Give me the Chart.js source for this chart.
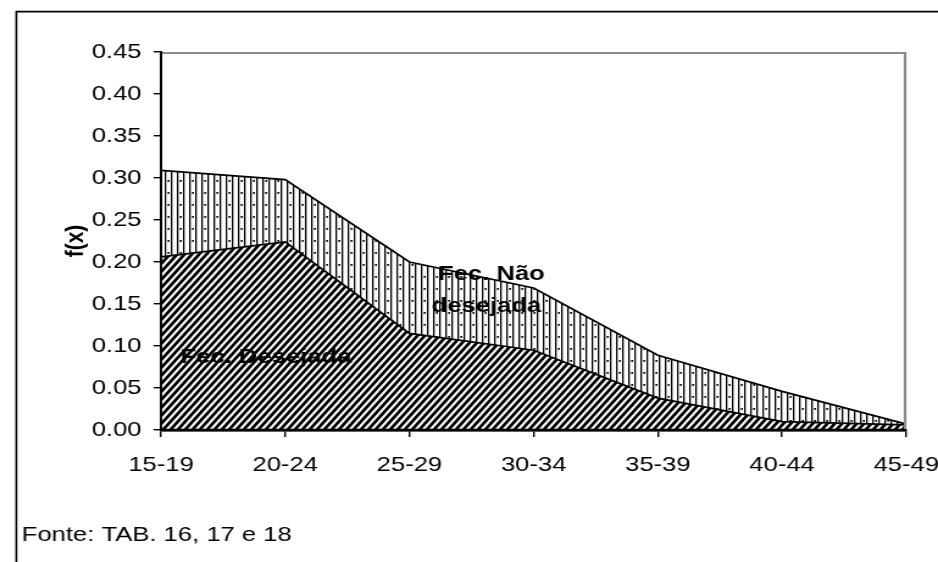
<!DOCTYPE html>
<html><head><meta charset="utf-8">
<script src="https://cdn.jsdelivr.net/npm/chart.js@4.4.1/dist/chart.umd.min.js"></script>
<style>html,body{margin:0;padding:0;background:#fff;overflow:hidden}
#c{display:block}</style>
</head><body>
<canvas id="c" width="769" height="562" style="width:938px;height:562px"></canvas>
<script>
const categories = ['15-19','20-24','25-29','30-34','35-39','40-44','45-49'];
const desejada = [0.206, 0.224, 0.115, 0.095, 0.038, 0.010, 0.006];
const naoDesejada = [0.103, 0.074, 0.085, 0.074, 0.051, 0.036, 0.001];
const yTicks = [0, 0.05, 0.10, 0.15, 0.20, 0.25, 0.30, 0.35, 0.40, 0.45];
const labelDesejada = 'Fec. Desejada';
const labelNao = ['Fec. Não', 'desejada'];
const axisTitle = 'f(x)';
const sourceNote = 'Fonte: TAB. 16, 17 e 18';

const FONT = "'Liberation Sans', Arial, sans-serif";

function hatchPattern() {
  const w = 6, h = 8;
  const c = document.createElement('canvas'); c.width = w; c.height = h;
  const x = c.getContext('2d');
  x.fillStyle = '#fff'; x.fillRect(0, 0, w, h);
  x.strokeStyle = '#000'; x.lineWidth = 2.7;
  x.beginPath();
  for (let k = 0; k <= 2; k++) {
    x.moveTo(k * w - 2 * w, 2 * h);
    x.lineTo(k * w + w, -h);
  }
  x.stroke();
  return x.createPattern(c, 'repeat');
}
function vertPattern() {
  const w = 10, h = 12;
  const c = document.createElement('canvas'); c.width = w; c.height = h;
  const x = c.getContext('2d');
  x.fillStyle = '#fff'; x.fillRect(0, 0, w, h);
  x.fillStyle = '#000';
  x.fillRect(0, 0, 1.3, h);
  x.fillRect(5, 0, 1.3, h);
  x.fillRect(7.4, 0, 1.6, 1.8);
  return x.createPattern(c, 'repeat');
}

const decor = {
  id: 'decor',
  afterDatasetsDraw(chart) {
    const ctx = chart.ctx, xs = chart.scales.x, ys = chart.scales.y, a = chart.chartArea;
    ctx.save();
    ctx.strokeStyle = '#000';
    ctx.lineWidth = 2;
    ctx.beginPath(); ctx.moveTo(a.left, a.top); ctx.lineTo(a.left, a.bottom); ctx.stroke();
    ctx.lineWidth = 2.5;
    ctx.beginPath(); ctx.moveTo(a.left, a.bottom); ctx.lineTo(a.right, a.bottom); ctx.stroke();
    ctx.fillStyle = '#000';
    ctx.font = 'bold 21px ' + FONT;
    ctx.textAlign = 'center';
    ctx.textBaseline = 'alphabetic';
    ctx.fillText(labelDesejada, xs.getPixelForValue(0.845), ys.getPixelForValue(0.080));
    ctx.fillText(labelNao[0], xs.getPixelForValue(2.66), ys.getPixelForValue(0.1786));
    ctx.fillText(labelNao[1], xs.getPixelForValue(2.62), ys.getPixelForValue(0.1405));
    ctx.strokeStyle = '#8c8c8c';
    ctx.lineWidth = 2.2;
    ctx.beginPath();
    ctx.moveTo(a.left + 1, a.top + 1); ctx.lineTo(a.right - 1, a.top + 1); ctx.lineTo(a.right - 1, a.bottom - 1);
    ctx.stroke();
    ctx.restore();
  },
  afterDraw(chart) {
    const ctx = chart.ctx;
    ctx.save();
    ctx.strokeStyle = '#000';
    ctx.lineWidth = 1.6;
    ctx.beginPath();
    ctx.moveTo(13.4, 562); ctx.lineTo(13.4, 11.6); ctx.lineTo(chart.width, 11.6);
    ctx.stroke();
    ctx.fillStyle = '#000';
    ctx.font = '21px ' + FONT;
    ctx.textAlign = 'left';
    ctx.textBaseline = 'alphabetic';
    ctx.fillText(sourceNote, 17.8, 541);
    ctx.restore();
  }
};

new Chart(document.getElementById('c'), {
  type: 'line',
  data: {
    labels: categories,
    datasets: [
      { label: labelDesejada, data: desejada, fill: 'origin', backgroundColor: hatchPattern(),
        borderColor: '#000', borderWidth: 1.7, pointRadius: 0, tension: 0 },
      { label: labelNao.join(' '), data: naoDesejada, fill: '-1', backgroundColor: vertPattern(),
        borderColor: '#000', borderWidth: 1.7, pointRadius: 0, tension: 0 }
    ]
  },
  options: {
    responsive: false,
    animation: false,
    devicePixelRatio: 1,
    layout: { padding: { left: 0, right: 26, top: 52, bottom: 0 } },
    plugins: { legend: { display: false }, tooltip: { enabled: false } },
    scales: {
      x: {
        offset: false,
        grid: { drawOnChartArea: false, drawTicks: true, tickLength: 7, color: '#000', lineWidth: 1.4 },
        border: { color: '#000', width: 2.5 },
        ticks: { color: '#000', font: { family: FONT, size: 21 }, padding: 16, maxRotation: 0, autoSkip: false },
        afterFit(s) { s.height = 132; s.paddingRight = 0; s.paddingLeft = 0; }
      },
      y: {
        stacked: true,
        min: 0, max: 0.45,
        grid: { drawOnChartArea: false, drawTicks: true, tickLength: 6, color: '#000', lineWidth: 1.4 },
        border: { color: '#000', width: 2 },
        ticks: { color: '#000', font: { family: FONT, size: 21 }, padding: 10,
          callback: v => Number(v).toFixed(2) },
        afterBuildTicks(s) { s.ticks = yTicks.map(v => ({ value: v })); },
        title: { display: true, text: axisTitle, color: '#000', font: { family: FONT, size: 21, weight: 'bold' },
          padding: { top: 50, bottom: 0 } },
        afterFit(s) { s.width = 132; }
      }
    }
  },
  plugins: [decor]
});
</script>
</body></html>
